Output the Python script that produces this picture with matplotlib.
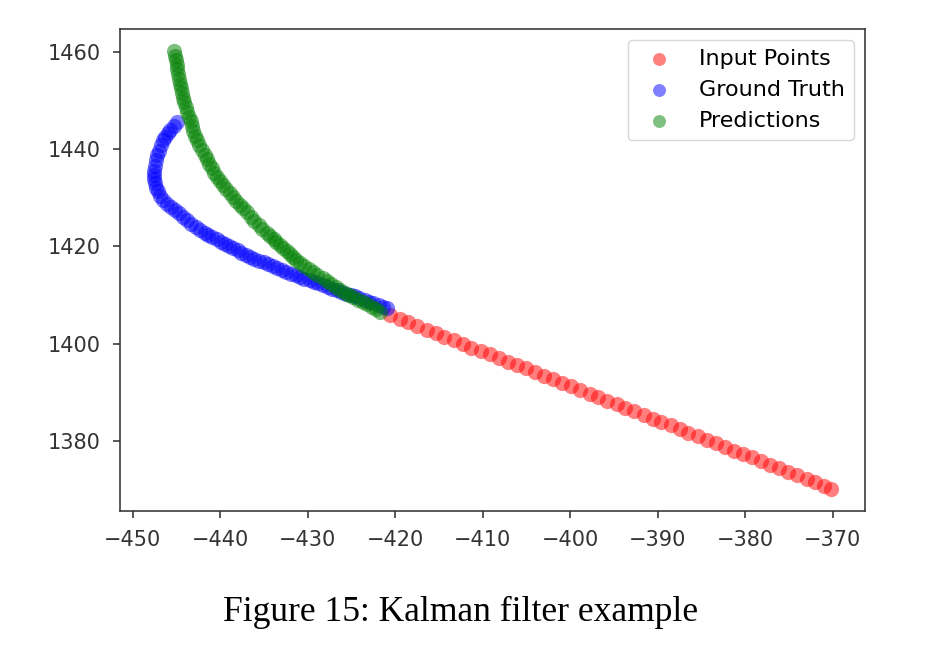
#!/usr/bin/env python3
"""
Kalman filter example plot: input points, ground truth and predictions.
"""

import matplotlib
matplotlib.use("Agg")
import matplotlib.pyplot as plt

# Input points (observed track)
input_x = [-420.6, -419.5, -418.5, -417.5, -416.4, -415.4, -414.4, -413.3, -412.3, -411.3,
           -410.2, -409.2, -408.2, -407.1, -406.1, -405.1, -404.0, -403.0, -402.0, -400.9,
           -399.9, -398.9, -397.8, -396.8, -395.8, -394.7, -393.7, -392.7, -391.6, -390.6,
           -389.6, -388.5, -387.5, -386.5, -385.4, -384.4, -383.4, -382.3, -381.3, -380.3,
           -379.2, -378.2, -377.2, -376.1, -375.1, -374.1, -373.0, -372.0, -371.0, -370.2]
input_y = [1405.8, 1405.1, 1404.4, 1403.6, 1402.9, 1402.2, 1401.4, 1400.7, 1400.0, 1399.2,
           1398.5, 1397.8, 1397.0, 1396.3, 1395.6, 1394.9, 1394.1, 1393.4, 1392.7, 1391.9,
           1391.2, 1390.5, 1389.7, 1389.0, 1388.3, 1387.5, 1386.8, 1386.1, 1385.4, 1384.6,
           1383.9, 1383.2, 1382.4, 1381.7, 1381.0, 1380.2, 1379.5, 1378.8, 1378.0, 1377.3,
           1376.6, 1375.9, 1375.1, 1374.4, 1373.7, 1372.9, 1372.2, 1371.5, 1370.7, 1370.1]

# Ground truth (future track)
truth_x = [-420.9, -421.4, -421.9, -422.5, -423.0, -423.5, -424.1, -424.6, -425.1, -425.6,
           -426.2, -426.7, -427.2, -427.7, -428.3, -428.8, -429.3, -429.8, -430.4, -430.9,
           -431.4, -431.9, -432.5, -433.0, -433.5, -434.0, -434.5, -435.0, -435.6, -436.1,
           -436.6, -437.1, -437.6, -438.0, -438.5, -439.0, -439.5, -439.9, -440.4, -440.9,
           -441.4, -441.8, -442.3, -442.8, -443.3, -443.8, -444.3, -444.7, -445.2, -445.6,
           -446.1, -446.5, -446.9, -447.1, -447.3, -447.5, -447.6, -447.6, -447.6, -447.5,
           -447.4, -447.2, -447.0, -446.8, -446.6, -446.3, -446.0, -445.7, -445.3, -445.0]
truth_y = [1407.3, 1407.6, 1408.0, 1408.3, 1408.6, 1409.0, 1409.3, 1409.7, 1410.0, 1410.3,
           1410.7, 1411.0, 1411.3, 1411.7, 1412.0, 1412.4, 1412.7, 1413.0, 1413.4, 1413.7,
           1414.1, 1414.4, 1414.8, 1415.2, 1415.6, 1415.9, 1416.3, 1416.7, 1417.1, 1417.4,
           1417.8, 1418.3, 1418.7, 1419.2, 1419.6, 1420.1, 1420.5, 1421.0, 1421.5, 1421.9,
           1422.4, 1422.8, 1423.3, 1424.0, 1424.7, 1425.4, 1426.1, 1426.8, 1427.4, 1428.1,
           1428.8, 1429.5, 1430.4, 1431.3, 1432.1, 1433.0, 1433.9, 1434.7, 1435.6, 1436.6,
           1437.7, 1438.7, 1439.7, 1440.8, 1441.8, 1442.6, 1443.3, 1444.0, 1444.8, 1445.5]

# Kalman filter predictions
pred_x = [-421.7, -422.2, -422.7, -423.2, -423.7, -424.3, -424.8, -425.3, -425.8, -426.3,
          -426.8, -427.3, -427.8, -428.3, -428.9, -429.4, -429.9, -430.4, -430.9,
          -431.3, -431.7, -432.0, -432.4, -432.8, -433.2, -433.6, -433.9, -434.3, -434.7,
          -435.2, -435.6, -436.1, -436.5, -437.0, -437.4,
          -437.8, -438.2, -438.5, -438.9, -439.3, -439.7, -440.0, -440.4,
          -440.7, -441.0, -441.3, -441.5, -441.8, -442.1, -442.4, -442.7,
          -442.9, -443.1, -443.2, -443.4, -443.6, -443.8, -443.9, -444.1, -444.3,
          -444.4, -444.5, -444.6, -444.7, -444.8, -444.9, -445.0, -445.1, -445.2, -445.3]
pred_y = [1406.6, 1407.1, 1407.6, 1408.1, 1408.6, 1409.0, 1409.5, 1410.0, 1410.5, 1411.0,
          1411.6, 1412.2, 1412.9, 1413.5, 1414.1, 1414.7, 1415.4, 1416.0, 1416.6,
          1417.2, 1417.8, 1418.5, 1419.1, 1419.7, 1420.3, 1420.9, 1421.6, 1422.2, 1422.8,
          1423.6, 1424.5, 1425.3, 1426.1, 1427.0, 1427.8,
          1428.6, 1429.4, 1430.2, 1431.0, 1431.8, 1432.6, 1433.4, 1434.2,
          1435.1, 1436.1, 1437.0, 1438.0, 1438.9, 1439.9, 1440.8, 1441.8,
          1442.8, 1443.8, 1444.7, 1445.7, 1446.7, 1447.7, 1448.6, 1449.6, 1450.6,
          1451.6, 1452.5, 1453.5, 1454.4, 1455.4, 1456.4, 1457.3, 1458.3, 1459.2, 1460.2]

caption = "Figure 15: Kalman filter example"


def plot_results():
    """Draw the three point sets and the figure caption."""
    fig = plt.figure(figsize=(9.3, 6.52), dpi=100)
    ax = fig.add_axes([0.129, 0.2163, 0.801, 0.7392])

    style = dict(s=120, alpha=0.5, linewidths=0)
    ax.scatter(input_x, input_y, color='red', label='Input Points', **style)
    ax.scatter(truth_x, truth_y, color='blue', label='Ground Truth', **style)
    ax.scatter(pred_x, pred_y, color='green', label='Predictions', **style)

    ax.set_xticks(range(-450, -369, 10))
    ax.set_yticks(range(1380, 1461, 20))
    ax.tick_params(labelsize=15, length=5.2, width=1.15, pad=8.5, colors='#333333')
    for spine in ax.spines.values():
        spine.set_linewidth(1.15)
        spine.set_color('#333333')

    ax.legend(loc='upper right', fontsize=16, markerscale=0.85)

    fig.text(0.495, 0.061, caption, ha='center', va='center',
             fontsize=25.6, family='Liberation Serif')

    fig.savefig('out.png', dpi=100)
    plt.close(fig)


def main():
    plot_results()
    return 0


if __name__ == "__main__":
    main()
